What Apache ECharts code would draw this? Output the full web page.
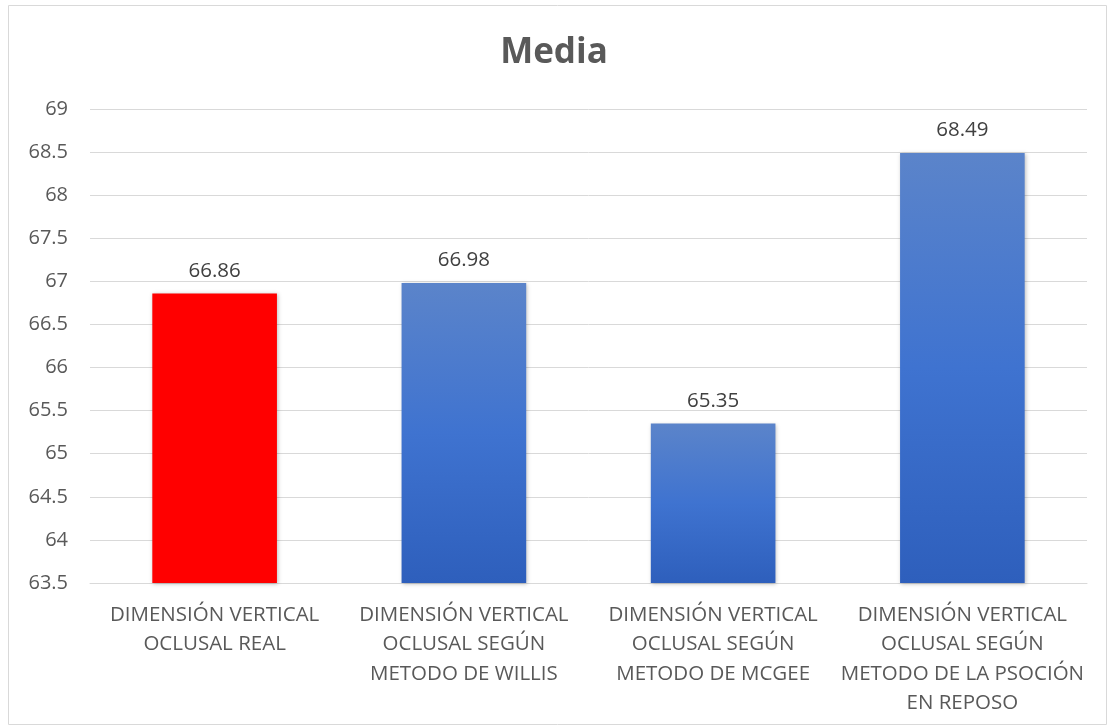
<!DOCTYPE html>
<html>
<head>
<meta charset="utf-8">
<script src="https://cdn.jsdelivr.net/npm/echarts@6/dist/echarts.min.js"></script>
<style>
html,body{margin:0;padding:0;background:#fff;}
#chart{width:1108px;height:726px;}
</style>
</head>
<body>
<div id="chart"></div>
<script>
// Media - dimension vertical oclusal
var categorias = ['DIMENSIÓN VERTICAL\nOCLUSAL REAL', 'DIMENSIÓN VERTICAL\nOCLUSAL SEGÚN\nMETODO DE WILLIS',
    'DIMENSIÓN VERTICAL\nOCLUSAL SEGÚN\nMETODO DE MCGEE', 'DIMENSIÓN VERTICAL\nOCLUSAL SEGÚN\nMETODO DE LA PSOCIÓN\nEN REPOSO'];
var valores = [66.86, 66.98, 65.35, 68.49];
var colores = ['red', 'azul', 'azul', 'azul'];

var azul = new echarts.graphic.LinearGradient(0, 0, 0, 1, [
    {offset: 0, color: '#5b84ca'},
    {offset: 0.5, color: '#3f73d0'},
    {offset: 1, color: '#2e5fbc'}
]);

var datos = [];
for (var i = 0; i < valores.length; i++) {
    datos.push({
        value: valores[i],
        itemStyle: {color: colores[i] == 'red' ? '#ff0000' : azul}
    });
}

var myChart = echarts.init(document.getElementById('chart'));
var option = {
    animation: false,
    title: {
        text: 'Media',
        left: 'center',
        top: 31,
        textStyle: {fontFamily: 'Open Sans', fontSize: 35, fontWeight: 'bold', color: '#595959'}
    },
    graphic: [{
        type: 'rect',
        shape: {x: 8.5, y: 5.5, width: 1098, height: 719},
        style: {fill: 'none', stroke: '#d9d9d9', lineWidth: 1},
        silent: true
    }],
    grid: {left: 90, right: 21, top: 109, bottom: 143},
    xAxis: {
        type: 'category',
        data: categorias,
        axisTick: {show: false},
        axisLine: {lineStyle: {color: '#d9d9d9', width: 1}},
        axisLabel: {
            interval: 0,
            margin: 17,
            fontFamily: 'Open Sans',
            fontSize: 20.5,
            lineHeight: 29.5,
            color: '#595959'
        }
    },
    yAxis: {
        type: 'value',
        min: 63.5,
        max: 69,
        interval: 0.5,
        axisLine: {show: false},
        axisTick: {show: false},
        splitLine: {lineStyle: {color: '#d9d9d9', width: 1}},
        axisLabel: {
            margin: 22,
            fontFamily: 'Open Sans',
            fontSize: 20,
            color: '#595959'
        }
    },
    series: [{
        type: 'bar',
        data: datos,
        barWidth: '50%',
        itemStyle: {shadowColor: 'rgba(0,0,0,0.25)', shadowBlur: 4, shadowOffsetX: 1, shadowOffsetY: 1},
        label: {
            show: true,
            position: 'top',
            distance: 12,
            fontFamily: 'Open Sans',
            fontSize: 20.5,
            color: '#404040',
            formatter: function (p) { return p.value.toFixed(2); }
        }
    }]
};
myChart.setOption(option);
</script>
</body>
</html>
